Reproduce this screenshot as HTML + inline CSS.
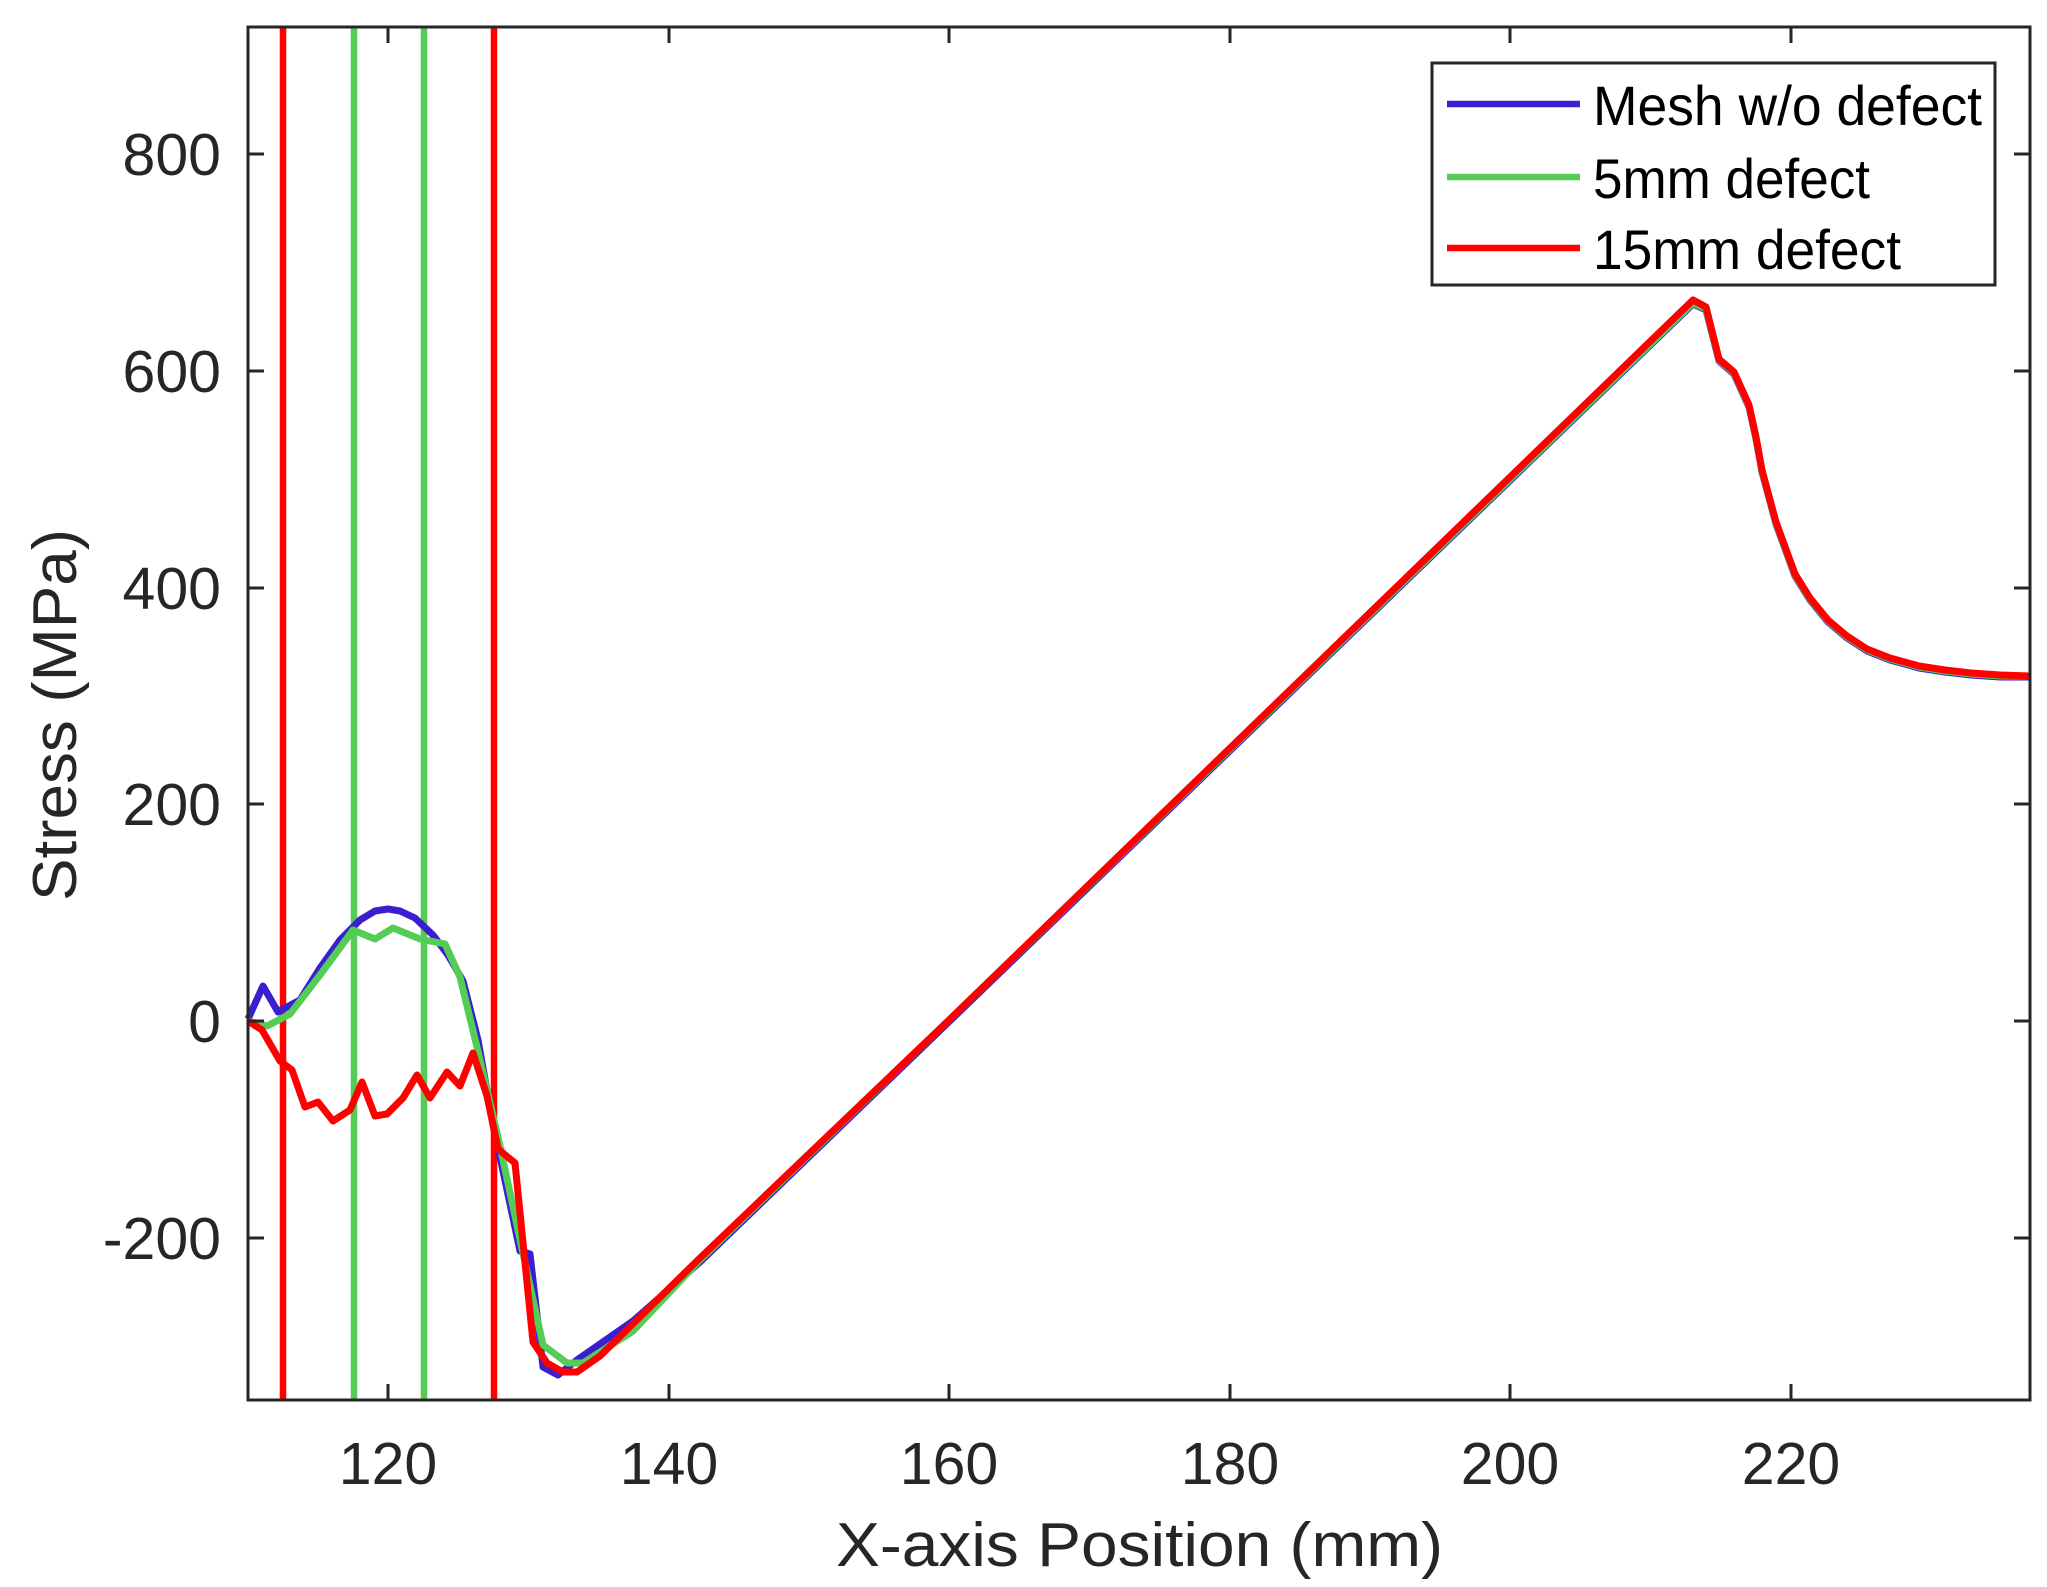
<!DOCTYPE html>
<html><head><meta charset="utf-8"><style>
html,body{margin:0;padding:0;background:#fff;}
svg{display:block;}
text{font-family:"Liberation Sans",Arial,sans-serif;fill:#262626;}
</style></head><body>
<svg width="2047" height="1587" viewBox="0 0 2047 1587" xmlns="http://www.w3.org/2000/svg">
<rect width="2047" height="1587" fill="#fff"/>
<g stroke-width="6.5" fill="none">
<line x1="283" y1="27" x2="283" y2="1400" stroke="#ff0000"/>
<line x1="354" y1="27" x2="354" y2="1400" stroke="#55cc55"/>
<line x1="424" y1="27" x2="424" y2="1400" stroke="#55cc55"/>
<line x1="494" y1="27" x2="494" y2="1400" stroke="#ff0000"/>
</g>
<g fill="none" stroke-width="7" stroke-linejoin="round">
<polyline stroke="#3a1fd0" points="248,1019 263,986 278,1012 300,1000 320,968 340,940 360,920 375,911 388,909 400,911 415,918 433,935 448,955 463,981 478,1040 493,1124 520,1251 530,1254 543,1367 558,1375 577,1360 633,1321 700,1262 1693,304 1706,310 1719,361 1734,374 1749,407 1756,439 1762,472 1776,524 1795,576 1810,600 1828,622 1847,638 1867,651 1890,660 1919,668 1945,672 1971,675 2000,677 2030,677"/>
<polyline stroke="#55cc55" points="248,1021 267,1026 290,1014 320,975 353,930 375,939 393,928 420,939 445,944 460,977 477,1047 500,1146 527,1272 543,1345 567,1363 583,1363 633,1331 700,1260 1693,303 1706,309 1719,360 1734,373 1749,406 1756,438 1762,471 1776,523 1795,575 1810,599 1828,621 1847,637 1867,650 1890,659 1919,667 1945,671 1971,674 2000,676 2030,676"/>
<polyline stroke="#ff0000" points="248,1021 262,1030 280,1061 292,1070 305,1107 318,1102 333,1121 350,1110 362,1082 375,1116 387,1114 403,1098 417,1075 430,1098 447,1072 460,1086 473,1053 487,1096 498,1149 515,1163 533,1342 547,1363 563,1372 577,1372 600,1356 700,1258 948,1021 1693,300 1706,307 1719,359 1734,372 1749,405 1756,437 1762,470 1776,522 1795,574 1810,598 1828,620 1847,636 1867,649 1890,658 1919,666 1945,670 1971,673 2000,675 2030,676"/>
</g>
<rect x="248" y="27" width="1782" height="1373" fill="none" stroke="#262626" stroke-width="3"/>
<g stroke="#262626" stroke-width="3">
<line x1="388" y1="1400" x2="388" y2="1384"/><line x1="388" y1="27" x2="388" y2="43"/>
<line x1="669" y1="1400" x2="669" y2="1384"/><line x1="669" y1="27" x2="669" y2="43"/>
<line x1="949" y1="1400" x2="949" y2="1384"/><line x1="949" y1="27" x2="949" y2="43"/>
<line x1="1230" y1="1400" x2="1230" y2="1384"/><line x1="1230" y1="27" x2="1230" y2="43"/>
<line x1="1510" y1="1400" x2="1510" y2="1384"/><line x1="1510" y1="27" x2="1510" y2="43"/>
<line x1="1791" y1="1400" x2="1791" y2="1384"/><line x1="1791" y1="27" x2="1791" y2="43"/>
<line x1="248" y1="1238" x2="264" y2="1238"/><line x1="2030" y1="1238" x2="2014" y2="1238"/>
<line x1="248" y1="1021" x2="264" y2="1021"/><line x1="2030" y1="1021" x2="2014" y2="1021"/>
<line x1="248" y1="804" x2="264" y2="804"/><line x1="2030" y1="804" x2="2014" y2="804"/>
<line x1="248" y1="588" x2="264" y2="588"/><line x1="2030" y1="588" x2="2014" y2="588"/>
<line x1="248" y1="371" x2="264" y2="371"/><line x1="2030" y1="371" x2="2014" y2="371"/>
<line x1="248" y1="154" x2="264" y2="154"/><line x1="2030" y1="154" x2="2014" y2="154"/>
</g>
<g font-size="59" text-anchor="middle">
<text x="388" y="1484">120</text>
<text x="669" y="1484">140</text>
<text x="949" y="1484">160</text>
<text x="1230" y="1484">180</text>
<text x="1510" y="1484">200</text>
<text x="1791" y="1484">220</text>
</g>
<g font-size="59" text-anchor="end">
<text x="221" y="1259">-200</text>
<text x="221" y="1042">0</text>
<text x="221" y="825">200</text>
<text x="221" y="609">400</text>
<text x="221" y="392">600</text>
<text x="221" y="175">800</text>
</g>
<text x="836" y="1566" font-size="62" textLength="607" lengthAdjust="spacingAndGlyphs">X-axis Position (mm)</text>
<text transform="translate(76,901) rotate(-90)" font-size="62" textLength="372" lengthAdjust="spacingAndGlyphs">Stress (MPa)</text>
<rect x="1432" y="63" width="563" height="222" fill="#fff" stroke="#262626" stroke-width="3"/>
<line x1="1447" y1="104" x2="1580" y2="104" stroke="#3a1fd0" stroke-width="6.5"/>
<line x1="1447" y1="177" x2="1580" y2="177" stroke="#55cc55" stroke-width="6.5"/>
<line x1="1447" y1="248" x2="1580" y2="248" stroke="#ff0000" stroke-width="6.5"/>
<g font-size="56">
<text x="1593" y="125" textLength="389" lengthAdjust="spacingAndGlyphs" style="fill:#000">Mesh w/o defect</text>
<text x="1593" y="198" textLength="277" lengthAdjust="spacingAndGlyphs" style="fill:#000">5mm defect</text>
<text x="1593" y="269" textLength="308" lengthAdjust="spacingAndGlyphs" style="fill:#000">15mm defect</text>
</g>
</svg>
</body></html>
